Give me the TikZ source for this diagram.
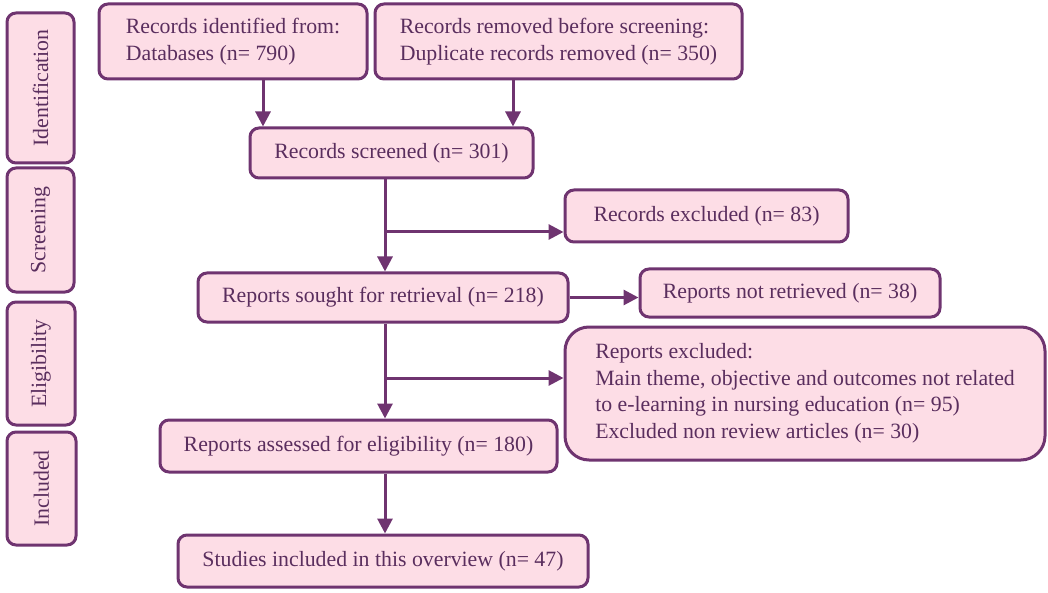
\documentclass[tikz,border=0pt]{standalone}
\usepackage{fontspec}
\setmainfont{Liberation Serif}
\usetikzlibrary{arrows.meta}
\definecolor{boxfill}{HTML}{FDDDE6}
\definecolor{boxline}{HTML}{6F3470}
\definecolor{boxtext}{HTML}{5A2E5E}
\begin{document}
\begin{tikzpicture}[x=1pt,y=-1pt,
  box/.style={draw=boxline, fill=boxfill, line width=3pt, rounded corners=9pt,
    inner sep=0pt, text=boxtext, font=\fontsize{21.8}{26.5}\selectfont, align=left},
  side/.style={box, rotate=90},
  arr/.style={draw=boxline, line width=3pt, -{Triangle[length=15pt,width=15pt]}}]
\useasboundingbox (0,0) rectangle (1048,593);
% side labels
\node[side, minimum width=150, minimum height=67] (sid) at (40.5,88) {Identification};
\node[side, minimum width=124, minimum height=67] (ssc) at (40.5,230) {Screening};
\node[side, minimum width=123, minimum height=68] (sel) at (41,363.5) {Eligibility};
\node[side, minimum width=113, minimum height=69] (sin) at (41.5,488.5) {Included};
% main boxes
\node[box, minimum width=268, minimum height=75] (ident) at (233,41.5) {Records identified from:\\Databases (n= 790)};
\node[box, minimum width=367, minimum height=75] (removed) at (558.5,41.5) {Records removed before screening:\\Duplicate records removed (n= 350)};
\node[box, minimum width=283, minimum height=50] (screened) at (391.5,153) {Records screened (n= 301)};
\node[box, minimum width=283, minimum height=52] (excl1) at (706.5,216) {Records excluded (n= 83)};
\node[box, minimum width=370, minimum height=49] (sought) at (383,297.5) {Reports sought for retrieval (n= 218)};
\node[box, minimum width=300, minimum height=48] (notret) at (790,293) {Reports not retrieved (n= 38)};
\node[box, rounded corners=24pt, minimum width=480, minimum height=133] (excl2) at (805,393.5) {Reports excluded:\\Main theme, objective and outcomes not related\\to e-learning in nursing education (n= 95)\\Excluded non review articles (n= 30)};
\node[box, minimum width=397, minimum height=52] (assessed) at (358.5,446) {Reports assessed for eligibility (n= 180)};
\node[box, minimum width=410, minimum height=52] (studies) at (383,561) {Studies included in this overview (n= 47)};
% connectors
\coordinate (c1) at (263,0);
\coordinate (c2) at (513,0);
\coordinate (c3) at (385,0);
\draw[arr] (ident.south -| c1) -- (screened.north -| c1);
\draw[arr] (removed.south -| c2) -- (screened.north -| c2);
\draw[arr] (screened.south -| c3) -- (sought.north -| c3);
\coordinate (b1) at (385,232);
\draw[arr] (b1) -- (excl1.west |- b1);
\draw[arr] (sought.east) -- (notret.west |- sought.east);
\draw[arr] (sought.south -| c3) -- (assessed.north -| c3);
\coordinate (b2) at (385,378);
\draw[arr] (b2) -- (excl2.west |- b2);
\draw[arr] (assessed.south -| c3) -- (studies.north -| c3);
\end{tikzpicture}
\end{document}
